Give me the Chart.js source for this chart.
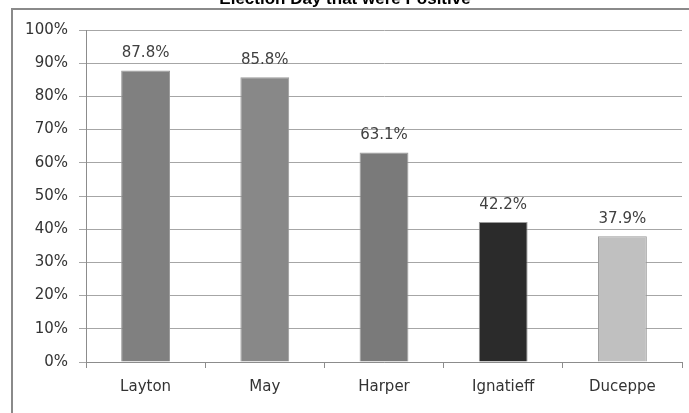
<!DOCTYPE html>
<html>
<head>
<meta charset="utf-8">
<title>Election Day Positive</title>
<script src="https://cdn.jsdelivr.net/npm/chart.js@4"></script>
<style>
  html, body { margin: 0; padding: 0; background: #fff; }
  #wrap { width: 689px; height: 413px; position: relative; overflow: hidden; }
</style>
</head>
<body>
<div id="wrap"><canvas id="positiveChart" width="689" height="413"></canvas></div>
<script>
const leaders = ['Layton', 'May', 'Harper', 'Ignatieff', 'Duceppe'];
const positiveShare = [87.8, 85.8, 63.1, 42.2, 37.9];
const barColors = ['#808080', '#888888', '#7a7a7a', '#2b2b2b', '#c0c0c0'];
const yTicks = [0, 10, 20, 30, 40, 50, 60, 70, 80, 90, 100];
const chartTitle = 'Election Day that were Positive';

const FONT = '"DejaVu Sans", "Open Sans", sans-serif';

// frame around the whole chart + the (partly cut) title line
const frameAndTitle = {
    id: 'frameAndTitle',
    beforeDraw(chart) {
        const ctx = chart.ctx;
        ctx.save();
        ctx.strokeStyle = '#8a8a8a';
        ctx.lineWidth = 2;
        ctx.strokeRect(12, 9, 700, 430);
        ctx.restore();
    },
    afterDraw(chart) {
        const ctx = chart.ctx;
        ctx.save();
        ctx.fillStyle = '#000';
        ctx.font = 'bold 17px "Liberation Sans", Arial, sans-serif';
        ctx.textAlign = 'center';
        ctx.textBaseline = 'alphabetic';
        ctx.fillText(chartTitle, 345, 4);
        ctx.restore();
    }
};

// value labels above each bar
const valueLabels = {
    id: 'valueLabels',
    afterDatasetsDraw(chart) {
        const ctx = chart.ctx;
        const meta = chart.getDatasetMeta(0);
        ctx.save();
        ctx.fillStyle = '#404040';
        ctx.font = '15px ' + FONT;
        ctx.textAlign = 'center';
        ctx.textBaseline = 'middle';
        meta.data.forEach((bar, i) => {
            ctx.fillText(positiveShare[i].toFixed(1) + '%', bar.x, bar.y - 17);
        });
        ctx.restore();
    }
};

new Chart(document.getElementById('positiveChart'), {
    type: 'bar',
    data: {
        labels: leaders,
        datasets: [{
            data: positiveShare,
            backgroundColor: barColors,
            borderColor: '#9a9a9a',
            borderWidth: 1,
            barPercentage: 0.41,
            categoryPercentage: 1
        }]
    },
    options: {
        responsive: false,
        animation: false,
        layout: { padding: { left: 12, top: 30, right: 7, bottom: 0 } },
        plugins: {
            legend: { display: false },
            tooltip: { enabled: false }
        },
        scales: {
            y: {
                min: 0,
                max: 100,
                afterFit: s => { s.width = 74; },
                afterBuildTicks: s => { s.ticks = yTicks.map(v => ({ value: v })); },
                grid: { color: '#a6a6a6', tickLength: 7, lineWidth: 1 },
                border: { color: '#8c8c8c' },
                ticks: {
                    padding: 11,
                    color: '#333',
                    font: { family: FONT, size: 15 },
                    callback: v => v + '%'
                }
            },
            x: {
                afterFit: s => { s.height = 51; },
                grid: {
                    offset: true,
                    drawOnChartArea: false,
                    tickLength: 6,
                    color: '#8c8c8c'
                },
                border: { color: '#8c8c8c' },
                ticks: {
                    padding: 10,
                    color: '#333',
                    font: { family: FONT, size: 15 }
                }
            }
        }
    },
    plugins: [frameAndTitle, valueLabels]
});
</script>
</body>
</html>
